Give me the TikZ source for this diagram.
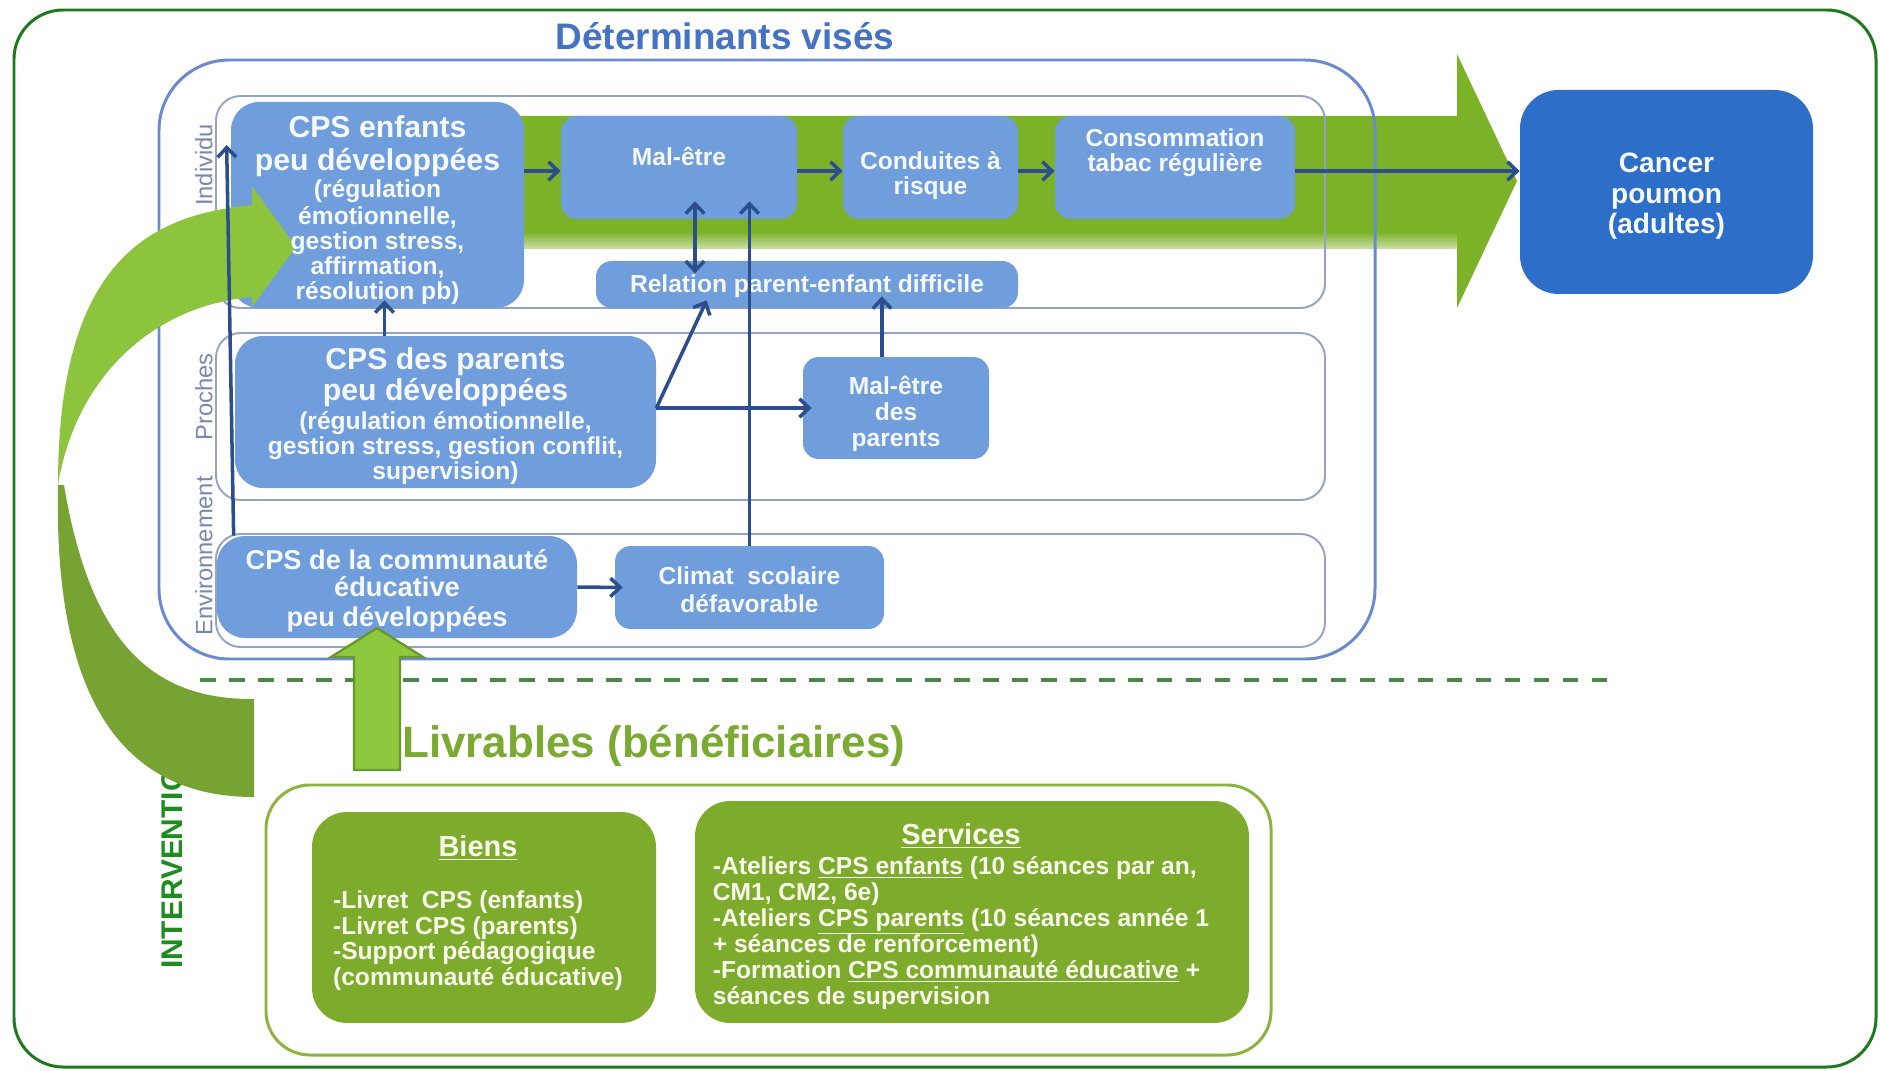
\documentclass[tikz,border=0pt]{standalone}
\usepackage{fontspec}
\setmainfont{Liberation Sans}
\usetikzlibrary{arrows.meta,calc,fit}
\newcommand\FS[2]{\fontsize{#1}{#2}\selectfont}
\newcommand\LsKoff{\lineskiplimit=-30pt\relax}

\definecolor{frameGreen}{RGB}{30,120,30}
\definecolor{detBlue}{RGB}{105,138,208}
\definecolor{titleBlue}{RGB}{68,114,196}
\definecolor{rowLine}{RGB}{150,162,194}
\definecolor{rowText}{RGB}{120,135,175}
\definecolor{boxBlue}{RGB}{112,157,219}
\definecolor{cancerBlue}{RGB}{44,110,200}
\definecolor{navy}{RGB}{45,78,140}
\definecolor{shaftGreen}{RGB}{124,178,40}
\definecolor{curveLight}{RGB}{140,196,62}
\definecolor{curveDark}{RGB}{118,163,50}
\definecolor{upLight}{RGB}{141,200,62}
\definecolor{upEdge}{RGB}{105,150,45}
\definecolor{dashGreen}{RGB}{75,135,70}
\definecolor{livGreen}{RGB}{122,170,50}
\definecolor{livLine}{RGB}{140,180,60}
\definecolor{delivBox}{RGB}{125,172,45}
\definecolor{intervGreen}{RGB}{30,140,30}
\definecolor{paleText}{RGB}{246,249,255}
\definecolor{paleGreenText}{RGB}{248,250,235}

\begin{document}
\begin{tikzpicture}[x=0.02cm,y=-0.02cm,
  bluebox/.style={fill=boxBlue,draw=none,rounded corners=9pt,inner sep=0pt},
  bigblue/.style={bluebox,rounded corners=16pt},
  rowbox/.style={draw=rowLine,line width=1.1pt,rounded corners=14pt,inner sep=0pt},
  rowlab/.style={rotate=90,text=rowText,inner sep=0pt,font=\FS{13.5}{14}},
  boxtxt/.style={text=paleText,align=center,inner sep=0pt,font=\FS{14}{14.2}\bfseries\LsKoff},
  conn/.style={draw=navy,line width=2pt,-{Straight Barb[length=5.5pt,width=10.5pt]}},
  greentxt/.style={text=paleGreenText,inner sep=0pt,font=\FS{14}{14.6}\bfseries},
  greenbox/.style={fill=delivBox,draw=none,rounded corners=20pt,inner sep=0pt}
]
\useasboundingbox (0,0) rectangle (1880,1071);

% outer frame and title
\node[draw=frameGreen,line width=1.7pt,rounded corners=28pt,inner sep=0pt,fit={(14,10) (1876,1067)}] (frame) {};
\node[text=titleBlue,font=\FS{21}{22}\bfseries] (title) at (725,36) {Déterminants visés};

% main causal pathway arrow
\fill[shaftGreen] (480,116) -- (1457,116) -- (1457,54) -- (1517,181) -- (1457,308) -- (1457,248) -- (480,248) -- cycle;
\shade[top color=shaftGreen,bottom color=shaftGreen!40!white] (480,232) rectangle (1457,249);

% determinants frame and the three levels
\node[draw=detBlue,line width=1.7pt,rounded corners=40pt,inner sep=0pt,fit={(159,60) (1375,659)}] (det) {};
\node[rowbox,fit={(216,96) (1325,308)}] (rowInd) {};
\node[rowbox,fit={(216,333) (1325,500)}] (rowPro) {};
\node[rowbox,fit={(216,534) (1325,647)}] (rowEnv) {};
\node[rowlab] (labInd) at (204,165) {Individu};
\node[rowlab] (labPro) at (204,397) {Proches};
\node[rowlab] (labEnv) at (204,556) {Environnement};

% separator between determinants and intervention
\draw[dashGreen,line width=2.2pt,dash pattern=on 9pt off 7.5pt] (200,680) -- (1607,680);

% determinant boxes
\node[bigblue,fit={(231,102) (524,308)}] (enfants) {};
\node[bluebox,fit={(561,116) (797,219)},label={[boxtxt,yshift=6.5pt]center:{Mal-être}}] (male) {};
\node[bluebox,fit={(843,116) (1018,219)},label={[boxtxt,yshift=-4.8pt]center:{Conduites à\\risque}}] (conduites) {};
\node[bluebox,fit={(1055,116) (1295,219)},label={[boxtxt,yshift=8.2pt]center:{Consommation\\tabac régulière}}] (conso) {};
\node[bluebox,fit={(596,261) (1018,308)},label={[boxtxt,yshift=-1pt]center:{Relation parent-enfant difficile}}] (relation) {};
\node[bigblue,fit={(235,336) (656,488)},
  label={[boxtxt,yshift=-2.5pt]center:{{\FS{17.2}{18}CPS des parents}\\[3.4pt]{\FS{17.2}{18}peu développées}\\[2.2pt](régulation émotionnelle,\\gestion stress, gestion conflit,\\supervision)}}] (parents) {};
\node[bluebox,fit={(803,357) (989,459)},
  label={[boxtxt,yshift=-3.4pt,font=\FS{14}{14.8}\bfseries\LsKoff]center:{Mal-être\\des\\parents}}] (maleparents) {};
\node[bigblue,fit={(217,536) (577,638)}] (comm) {};
\node[bluebox,fit={(615,546) (884,629)},
  label={[boxtxt,yshift=-1pt,font=\FS{14}{15.9}\bfseries\LsKoff]center:{Climat\ \ scolaire\\défavorable}}] (climat) {};
\node[fill=cancerBlue,rounded corners=22pt,inner sep=0pt,fit={(1520,90) (1813,294)},
  label={[boxtxt,yshift=-2.4pt,font=\FS{16}{17.5}\bfseries\LsKoff]center:{Cancer\\poumon\\(adultes)}}] (cancer) {};

% intervention side label
\node[rotate=90,text=intervGreen,inner sep=0pt,font=\FS{17}{18}\bfseries] (interv) at (172,858) {INTERVENTION};

% curved feedback arrow: back face, then front face with head
\fill[curveDark] (58,485) .. controls (54,680) and (110,797) .. (254,797) -- (254,699)
  .. controls (150,700) and (90,640) .. (64,485) -- cycle;
\fill[curveLight] (252,205) .. controls (150,215) and (58,260) .. (58,485)
  .. controls (75,380) and (150,306) .. (252,297) -- (252,307) -- (296,247) -- (252,186) -- cycle;

% upward arrow from the deliverables
\draw[upEdge,line width=1.3pt,fill=upLight] (354,770) -- (354,657) -- (331,657) -- (377,628)
  -- (423,657) -- (400,657) -- (400,770) -- cycle;

% texts of the boxes crossed by the green arrows
\node[boxtxt] (enfantsTxt) at ($(enfants.center)+(0,5)$)
  {{\FS{17.2}{18}CPS enfants}\\[4.5pt]{\FS{17.2}{18}peu développées}\\[1.1pt](régulation\\[1.1pt]émotionnelle,\\gestion stress,\\affirmation,\\résolution pb)};
\node[boxtxt,font=\FS{15.5}{15.3}\bfseries\LsKoff] (commTxt) at ($(comm.center)+(0,4)$)
  {CPS de la communauté\\éducative\\[1.7pt]peu développées};

% connectors
\coordinate (flowY) at (0,171);
\draw[conn] (enfants.east |- flowY) -- (male.west |- flowY);
\draw[conn] (male.east |- flowY) -- (conduites.west |- flowY);
\draw[conn] (conduites.east |- flowY) -- (conso.west |- flowY);
\draw[conn] (conso.east |- flowY) -- (cancer.west |- flowY);
\draw[conn,{Straight Barb[length=5.5pt,width=10.5pt]}-{Straight Barb[length=5.5pt,width=10.5pt]}]
  ($(male.south)+(16,-18)$) -- ($(male.south)+(16,54)$);
\draw[conn] (climat.north) -- ($(climat.north |- male.south)+(0,-18)$);
\draw[conn] (parents.east |- maleparents.west) -- ($(maleparents.west)+(9,0)$);
\draw[conn] (parents.east |- maleparents.west) -- ($(relation.south west)+(111,-8)$);
\draw[conn] ($(maleparents.north)+(-14,0)$) -- ($(maleparents.north |- relation.south)+(-14,-12)$);
\draw[conn] ($(parents.north)+(-61,0)$) -- ($(parents.north |- enfants.south)+(-61,-8)$);
\draw[conn] ($(comm.north west)+(17,0)$) -- ($(enfants.west)+(-4,-60)$);
\draw[conn] (comm.east) -- ($(climat.west)+(8,0)$);

% deliverables
\node[text=livGreen,inner sep=0pt,anchor=west,font=\FS{25}{26}\bfseries] (livTitle) at (402,746) {Livrables (bénéficiaires)};
\node[draw=livLine,line width=1.7pt,rounded corners=25pt,inner sep=0pt,fit={(266,785) (1271,1055)}] (deliv) {};
\node[greenbox,fit={(312,812) (656,1023)}] (biens) {};
\node[greenbox,fit={(695,801) (1249,1023)}] (services) {};
\node[greentxt] (biensTxt) at ($(biens.center)+(-6,-3)$)
  {\begin{tabular}{@{}l@{}}
   \multicolumn{1}{@{}c@{}}{\FS{16.5}{17}\underline{Biens}}\\[15pt]
   -Livret\ \ CPS (enfants)\\
   -Livret CPS (parents)\\
   -Support pédagogique\\
   (communauté éducative)
   \end{tabular}};
\node[greentxt] (servicesTxt) at ($(services.center)+(-11,6)$)
  {\begin{tabular}{@{}l@{}}
   \multicolumn{1}{@{}c@{}}{\FS{16.5}{17}\underline{Services}}\\[2.4pt]
   -Ateliers \underline{CPS enfants} (10 séances par an,\\
   CM1, CM2, 6e)\\
   -Ateliers \underline{CPS parents} (10 séances année 1\\
   + séances de renforcement)\\
   -Formation \underline{CPS communauté éducative} +\\
   séances de supervision
   \end{tabular}};
\end{tikzpicture}
\end{document}
